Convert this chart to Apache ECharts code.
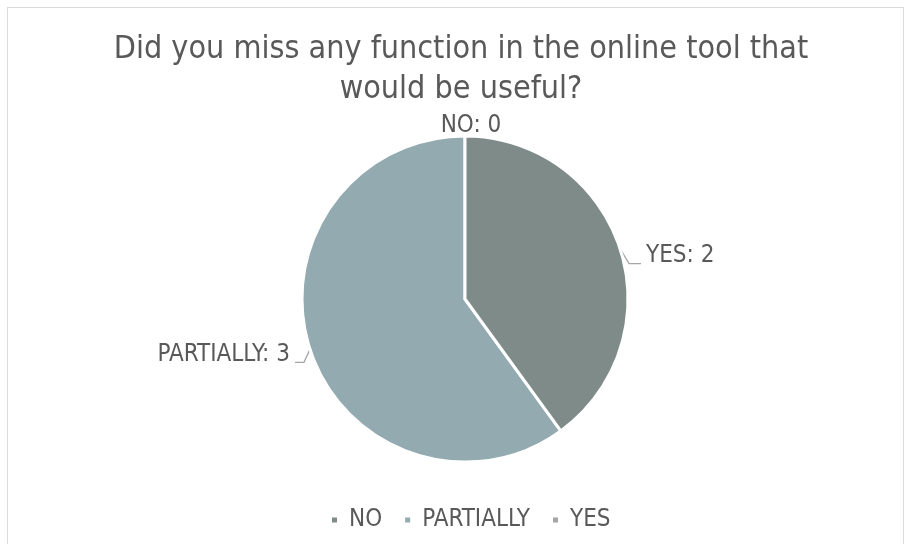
<!DOCTYPE html>
<html>
<head>
<meta charset="utf-8">
<script src="https://cdn.jsdelivr.net/npm/echarts@6/dist/echarts.min.js"></script>
<style>
  html, body { margin: 0; padding: 0; background: #ffffff; }
  #frame { position: absolute; left: 7px; top: 7px; width: 897px; height: 545px; border: 1px solid #d9d9d9; box-sizing: border-box; }
  #chart { position: absolute; left: 0; top: 0; width: 910px; height: 544px; }
</style>
</head>
<body>
<div id="frame"></div>
<div id="chart"></div>
<script>
// Survey answers
const categories = ['NO', 'PARTIALLY', 'YES'];
const answers = [0, 3, 2];
const sliceColors = ['#7e8b88', '#93aab1', '#7e8b88'];
const legendColors = ['#7e8b88', '#93aab1', '#a5a5a5'];
const titleText = 'Did you miss any function in the online tool that\nwould be useful?';

const FONT = '"DejaVu Sans Condensed", "DejaVu Sans", sans-serif';
const TEXT = '#595959';
const CENTER = [465, 299];

const chart = echarts.init(document.getElementById('chart'), null, { renderer: 'canvas' });

chart.setOption({
  animation: false,
  title: {
    text: titleText,
    left: 456,
    textAlign: 'center',
    top: 25,
    textStyle: { fontFamily: FONT, fontSize: 32, fontWeight: 'normal', color: TEXT, lineHeight: 40 }
  },
  legend: {
    top: 503,
    left: 325,
    icon: 'rect',
    itemWidth: 7,
    itemHeight: 7,
    itemGap: 21,
    textStyle: { fontFamily: FONT, fontSize: 24, color: TEXT, padding: [0, 0, 0, 6] },
    data: categories.map((name, i) => ({ name: name, itemStyle: { color: legendColors[i] } }))
  },
  series: [{
    type: 'pie',
    center: CENTER,
    radius: 163,
    startAngle: 90,
    clockwise: false,
    avoidLabelOverlap: false,
    itemStyle: { borderColor: '#ffffff', borderWidth: 3 },
    label: {
      show: true,
      formatter: '{b}: {c}',
      fontFamily: FONT,
      fontSize: 24,
      color: TEXT
    },
    labelLine: { show: true, length: 8, length2: 10, lineStyle: { color: '#a6a6a6', width: 1.3 } },
    labelLayout: function (p) {
      const pts = p.labelLinePoints;
      if (!pts) return {};
      const a = pts[0];
      if (p.dataIndex === 0) {
        return { x: a[0] + 6, y: a[1] - 10, align: 'center', verticalAlign: 'middle' };
      }
      const right = a[0] > CENTER[0];
      const b = right ? [a[0] + 9, a[1] + 15] : [a[0] - 6, a[1] + 13];
      const c = right ? [b[0] + 12, b[1]] : [b[0] - 9, b[1]];
      return {
        x: right ? c[0] + 5 : c[0] - 5,
        y: c[1] - 8,
        align: right ? 'left' : 'right',
        verticalAlign: 'middle',
        labelLinePoints: [a, b, c]
      };
    },
    data: categories.map((name, i) => ({
      name: name,
      value: answers[i],
      itemStyle: { color: sliceColors[i] },
      labelLine: { show: answers[i] > 0 }
    }))
  }]
});
</script>
</body>
</html>
